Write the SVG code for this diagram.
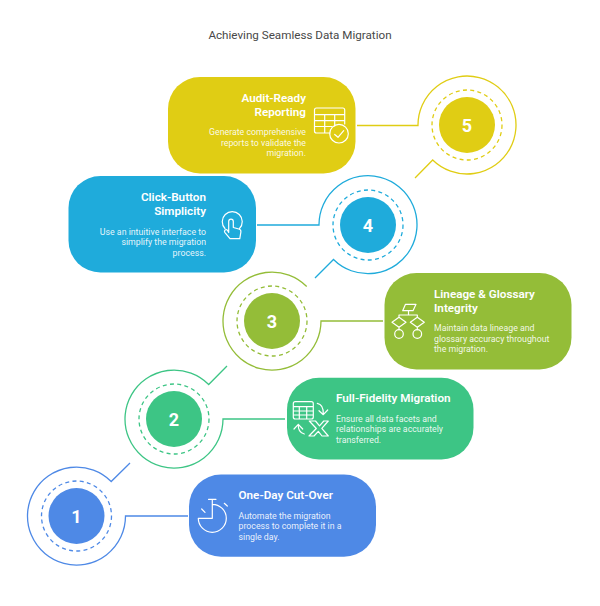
<svg xmlns="http://www.w3.org/2000/svg" width="600" height="606" viewBox="0 0 600 606">
<style>
text{font-family:Roboto,"Liberation Sans",sans-serif}
.bg{fill:#fff}
.t{font-size:11.650px;fill:#484848;text-anchor:middle}
.h{font-size:11.700px;font-weight:600;fill:#fff}
.b{font-size:8.780px;fill:#fff;fill-opacity:.9}
.e{text-anchor:end}
.n{font-size:18px;font-weight:700;fill:#fff;text-anchor:middle}
.c{fill:none;stroke-width:1.300}
.d{fill:none;stroke-width:1.300;stroke-dasharray:4 3.300}
.i{fill:none;stroke:#fff;stroke-width:1.200;stroke-linecap:round;stroke-linejoin:round}
.y{color:#E0CD14}.s{color:#1FABDB}.g{color:#94BD38}.m{color:#3DC585}.u{color:#4E89E6}
.f{fill:currentColor}.k{stroke:currentColor}
</style>
<rect class="bg" width="600" height="606"/>
<text class="t" x="300" y="39">Achieving Seamless Data Migration</text>
<g id="connectors">
<path class="c k y" d="M357 125.500H418A49 49 0 1 1 432.700 160L415 178"/>
<path class="c k s" d="M257 225H319A49 49 0 1 1 333.500 259.500L315 278"/>
<path class="c k g" d="M383 321H321A49 49 0 1 1 306.700 286.500"/>
<path class="c k m" d="M285 419H223A49 49 0 1 1 208.700 384.500L227 366"/>
<path class="c k u" d="M188 516H125.500A49 49 0 1 1 111.200 481.500L130 463"/>
</g>
<g id="node-5" class="y">
<circle class="f" cx="467" cy="125" r="28"/><circle class="d k" cx="467" cy="125" r="35"/>
<text class="n" x="467" y="131.500">5</text>
<rect class="f" x="168" y="77" width="187.500" height="96.500" rx="32"/>
<text class="h e" x="306" y="102">Audit-Ready</text><text class="h e" x="306" y="116">Reporting</text>
<text class="b e" x="306" y="135">Generate comprehensive</text><text class="b e" x="306" y="145.500">reports to validate the</text><text class="b e" x="306" y="156">migration.</text>
<path class="i" d="M330 133H316.500a2 2 0 0 1-2-2V110a2 2 0 0 1 2-2H342.700a2 2 0 0 1 2 2V124M314.500 114.700H344.700M314.500 120.700H344.700M314.500 126.500H332M324.700 114.700V133M334.700 114.700V126"/>
<circle class="i" cx="339" cy="133.700" r="9.300"/><path class="i" d="M334.700 134.500L338 137.300L343.700 130.700"/>
</g>
<g id="node-4" class="s">
<circle class="f" cx="368" cy="225" r="28"/><circle class="d k" cx="368" cy="225" r="35"/>
<text class="n" x="368" y="231.500">4</text>
<rect class="f" x="68.500" y="176" width="187.500" height="96.500" rx="32"/>
<text class="h e" x="206" y="201">Click-Button</text><text class="h e" x="206" y="215">Simplicity</text>
<text class="b e" x="206" y="234.500">Use an intuitive interface to</text><text class="b e" x="206" y="245">simplify the migration</text><text class="b e" x="206" y="255.500">process.</text>
<path class="i" d="M225 228.500A10 10 0 1 1 239.500 228.500"/>
<path class="i" d="M228.700 232.500V221.500a2.300 2.300 0 0 1 4.600 0V227.500L238.800 229c1.500.4 2.300 1.300 2.100 2.800L239.800 238.700H230L224.800 232.300c-1.200-1.800 1.200-3.500 2.600-2.100Z"/>
</g>
<g id="node-3" class="g">
<circle class="f" cx="272" cy="321" r="28"/><circle class="d k" cx="272" cy="321" r="35"/>
<text class="n" x="272" y="327.500">3</text>
<rect class="f" x="384.500" y="273" width="187" height="96.500" rx="32"/>
<text class="h" x="434" y="298">Lineage &amp; Glossary</text><text class="h" x="434" y="312">Integrity</text>
<text class="b" x="434" y="331">Maintain data lineage and</text><text class="b" x="434" y="341.500">glossary accuracy throughout</text><text class="b" x="434" y="352">the migration.</text>
<path class="i" d="M405.500 304.300H416L413 310.700H402.700ZM408.500 310.700V315M399 317.300V315H417.300V317.300M399 327.300V329.700M417.300 327.300V329.700M399 317.300L406 322.300L399 327.300L392 322.300ZM417.300 317.300L424.300 322.300L417.300 327.300L410.300 322.300Z"/>
<circle class="i" cx="399" cy="334" r="4.300"/><circle class="i" cx="417.300" cy="334" r="4.300"/>
</g>
<g id="node-2" class="m">
<circle class="f" cx="174" cy="419" r="28"/><circle class="d k" cx="174" cy="419" r="35"/>
<text class="n" x="174" y="425.500">2</text>
<rect class="f" x="287" y="377.700" width="186.500" height="81.800" rx="32"/>
<text class="h" x="336" y="402">Full-Fidelity Migration</text>
<text class="b" x="336" y="421.500">Ensure all data facets and</text><text class="b" x="336" y="432">relationships are accurately</text><text class="b" x="336" y="442.500">transferred.</text>
<path class="i" d="M295.300 401.700H311.300a2 2 0 0 1 2 2V417a2 2 0 0 1-2 2H295.300a2 2 0 0 1-2-2V403.700a2 2 0 0 1 2-2ZM293.300 406.700H313.300M293.300 411H313.300M293.300 415H313.300M299.300 406.700V419M306.700 406.700V419"/>
<path class="i" d="M317.300 403.300C321.500 404 323.500 408 323.300 414.300M319 410.700L323.300 414.700L327.700 410M304.300 434C300 433 298 429.500 298.300 424.300M294 429L298.300 424.300L302.700 429"/>
<path class="i" d="M309.300 421H315.500L319.500 425.800L323.800 421H328.300L321.800 428.300L328.300 436H322L318.300 431.300L314 436H309L316.300 428.500Z"/>
</g>
<g id="node-1" class="u">
<circle class="f" cx="76.500" cy="516" r="28"/><circle class="d k" cx="76.500" cy="516" r="35"/>
<text class="n" x="76.500" y="522.500">1</text>
<rect class="f" x="189" y="474.500" width="187" height="82.300" rx="32"/>
<text class="h" x="238.500" y="499">One-Day Cut-Over</text>
<text class="b" x="238.500" y="518.500">Automate the migration</text><text class="b" x="238.500" y="529">process to complete it in a</text><text class="b" x="238.500" y="539.500">single day.</text>
<path class="i" d="M212.300 504.300A14 14 0 1 1 198.300 518.300H212.300V499.300M208.500 499.300H216M201.700 509L205 512.300M224.300 503.300L227.300 506"/>
</g>
</svg>
